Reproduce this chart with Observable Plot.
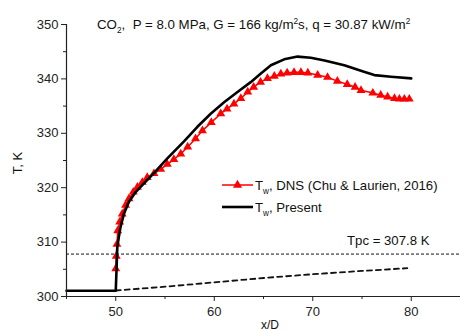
<!DOCTYPE html>
<html>
<head>
<meta charset="utf-8">
<script src="https://cdn.jsdelivr.net/npm/d3@7"></script>
<script src="https://cdn.jsdelivr.net/npm/@observablehq/plot@0.6"></script>
<style>
  html, body { margin: 0; padding: 0; background: #fff; }
  #chart svg { display: block; font-family: "Liberation Sans", Arial, sans-serif; }
</style>
</head>
<body>
<div id="chart"></div>
<script>
// DNS (Chu & Laurien, 2016) wall temperature
const dnsX = [50.0, 50.05, 50.12, 50.2, 50.4, 50.66, 51.0, 51.34, 51.78, 52.2, 52.7, 53.2, 53.88, 54.56, 55.24, 55.9, 56.6, 57.3, 58.1, 58.8, 59.7, 60.66, 61.3, 62.0, 62.7, 63.4, 64.0, 64.7, 65.4, 66.1, 66.76, 67.4, 68.1, 68.8, 69.5, 70.5, 71.5, 72.5, 73.5, 74.3, 74.9, 76.1, 76.9, 77.6, 78.3, 78.8, 79.3, 79.8];
const dnsT = [305.1, 307.4, 309.6, 312.1, 313.7, 315.2, 316.8, 318.0, 319.2, 320.1, 321.0, 321.9, 322.6, 323.4, 324.3, 325.2, 326.2, 327.5, 329.0, 330.5, 332.0, 333.6, 334.5, 335.4, 336.4, 337.6, 338.5, 339.4, 340.1, 340.5, 340.9, 341.1, 341.2, 341.2, 341.1, 340.7, 340.3, 339.6, 339.0, 338.5, 337.9, 337.4, 337.0, 336.7, 336.4, 336.3, 336.3, 336.3];
// Present wall temperature
const presX = [45.0, 50.0, 50.08, 50.16, 50.32, 50.49, 50.83, 51.34, 52.02, 52.86, 53.88, 55.24, 56.93, 58.29, 59.64, 61.0, 62.36, 63.7, 64.73, 65.75, 67.1, 68.46, 69.8, 71.2, 73.2, 75.2, 76.25, 77.95, 80.0];
const presT = [301.05, 301.05, 305.0, 309.1, 311.0, 312.8, 315.2, 317.4, 319.2, 320.8, 322.7, 325.4, 328.5, 331.2, 333.6, 335.7, 337.6, 339.4, 341.0, 342.5, 343.6, 344.1, 343.9, 343.4, 342.5, 341.3, 340.7, 340.4, 340.1];
// Bulk temperature (dashed)
const bulkX = [50, 55, 60, 65, 70, 75, 79.6];
const bulkT = [301.1, 301.8, 302.6, 303.4, 304.1, 304.7, 305.2];
const tpc = 307.8;
const xMajor = [50, 60, 70, 80];
const xMinor = [45, 55, 65, 75, 85];
const yMajor = [300, 310, 320, 330, 340, 350];
const yMinor = [305, 315, 325, 335, 345];

const dns = dnsX.map((x, i) => ({x, T: dnsT[i]}));
const pres = presX.map((x, i) => ({x, T: presT[i]}));
const bulk = bulkX.map((x, i) => ({x, T: bulkT[i]}));

const font = "'Liberation Sans', Arial, sans-serif";

const plot = Plot.plot({
  width: 460,
  height: 331,
  marginLeft: 66,
  marginRight: 0,
  marginTop: 24,
  marginBottom: 35,
  style: {fontFamily: font, fontSize: "13px", color: "#222", background: "white"},
  x: {domain: [45, 85], label: null},
  y: {domain: [300, 350], label: null},
  marks: [
    Plot.ruleY([tpc], {stroke: "#111", strokeWidth: 1, strokeDasharray: "3,2"}),
    Plot.line(bulk, {x: "x", y: "T", stroke: "#111", strokeWidth: 1.8, strokeDasharray: "5,4"}),
    Plot.line(dns, {x: "x", y: "T", stroke: "red", strokeWidth: 1.5}),
    Plot.dot(dns, {x: "x", y: "T", symbol: "triangle", fill: "red", stroke: "none", r: 3.3}),
    Plot.line(pres, {x: "x", y: "T", stroke: "black", strokeWidth: 2.6}),
    Plot.axisX({ticks: xMajor, tickSize: 5, tickPadding: 5, label: null, tickFormat: d => d}),
    Plot.axisX({ticks: xMinor, tickSize: 3, label: null, tickFormat: () => ""}),
    Plot.axisY({ticks: yMajor, tickSize: 5, tickPadding: 3, label: null, tickFormat: d => d}),
    Plot.axisY({ticks: yMinor, tickSize: 3, label: null, tickFormat: () => ""}),
    Plot.ruleY([300], {stroke: "#222", strokeWidth: 1.2}),
    Plot.ruleX([45], {stroke: "#222", strokeWidth: 1.2})
  ]
});
document.getElementById("chart").appendChild(plot);

const svg = d3.select(plot);

function richText(x, y, parts, size, anchor) {
  const t = svg.append("text")
    .attr("x", x).attr("y", y)
    .attr("font-family", font).attr("font-size", size)
    .attr("fill", "#111")
    .attr("text-anchor", anchor || "start");
  parts.forEach(p => {
    const s = t.append("tspan").text(p.t);
    if (p.sub) s.attr("font-size", size * 0.62).attr("dy", 4);
    if (p.sup) s.attr("font-size", size * 0.62).attr("dy", -5);
    if (p.back) s.attr("dy", p.back);
  });
  return t;
}

// Title
richText(97, 29, [
  {t: "CO"}, {t: "2", sub: true}, {t: ",  P = 8.0 MPa, G = 166 kg/m", back: -4},
  {t: "2", sup: true}, {t: "s, q = 30.87 kW/m", back: 5}, {t: "2", sup: true}
], 13.3);

// Legend
const lg = svg.append("g");
lg.append("line").attr("x1", 222).attr("x2", 253).attr("y1", 185).attr("y2", 185)
  .attr("stroke", "red").attr("stroke-width", 1.5);
lg.append("path").attr("d", d3.symbol(d3.symbolTriangle, 36)()).attr("transform", "translate(237.5,185)").attr("fill", "red");
richText(255, 189.5, [{t: "T"}, {t: "w", sub: true}, {t: ", DNS (Chu & Laurien, 2016)", back: -4}], 13.2);
lg.append("line").attr("x1", 222).attr("x2", 253).attr("y1", 207).attr("y2", 207)
  .attr("stroke", "black").attr("stroke-width", 2.6);
richText(255, 211.5, [{t: "T"}, {t: "w", sub: true}, {t: ", Present", back: -4}], 13.2);

// Tpc label
richText(347, 244.5, [{t: "Tpc = 307.8 K"}], 13.2);

// Axis labels
svg.append("text").attr("transform", "translate(22,163) rotate(-90)")
  .attr("text-anchor", "middle").attr("font-family", font).attr("font-size", 13)
  .attr("fill", "#111").text("T, K");
svg.append("text").attr("x", 270).attr("y", 329).attr("text-anchor", "middle")
  .attr("font-family", font).attr("font-size", 12).attr("fill", "#111").text("x/D");
</script>
</body>
</html>
